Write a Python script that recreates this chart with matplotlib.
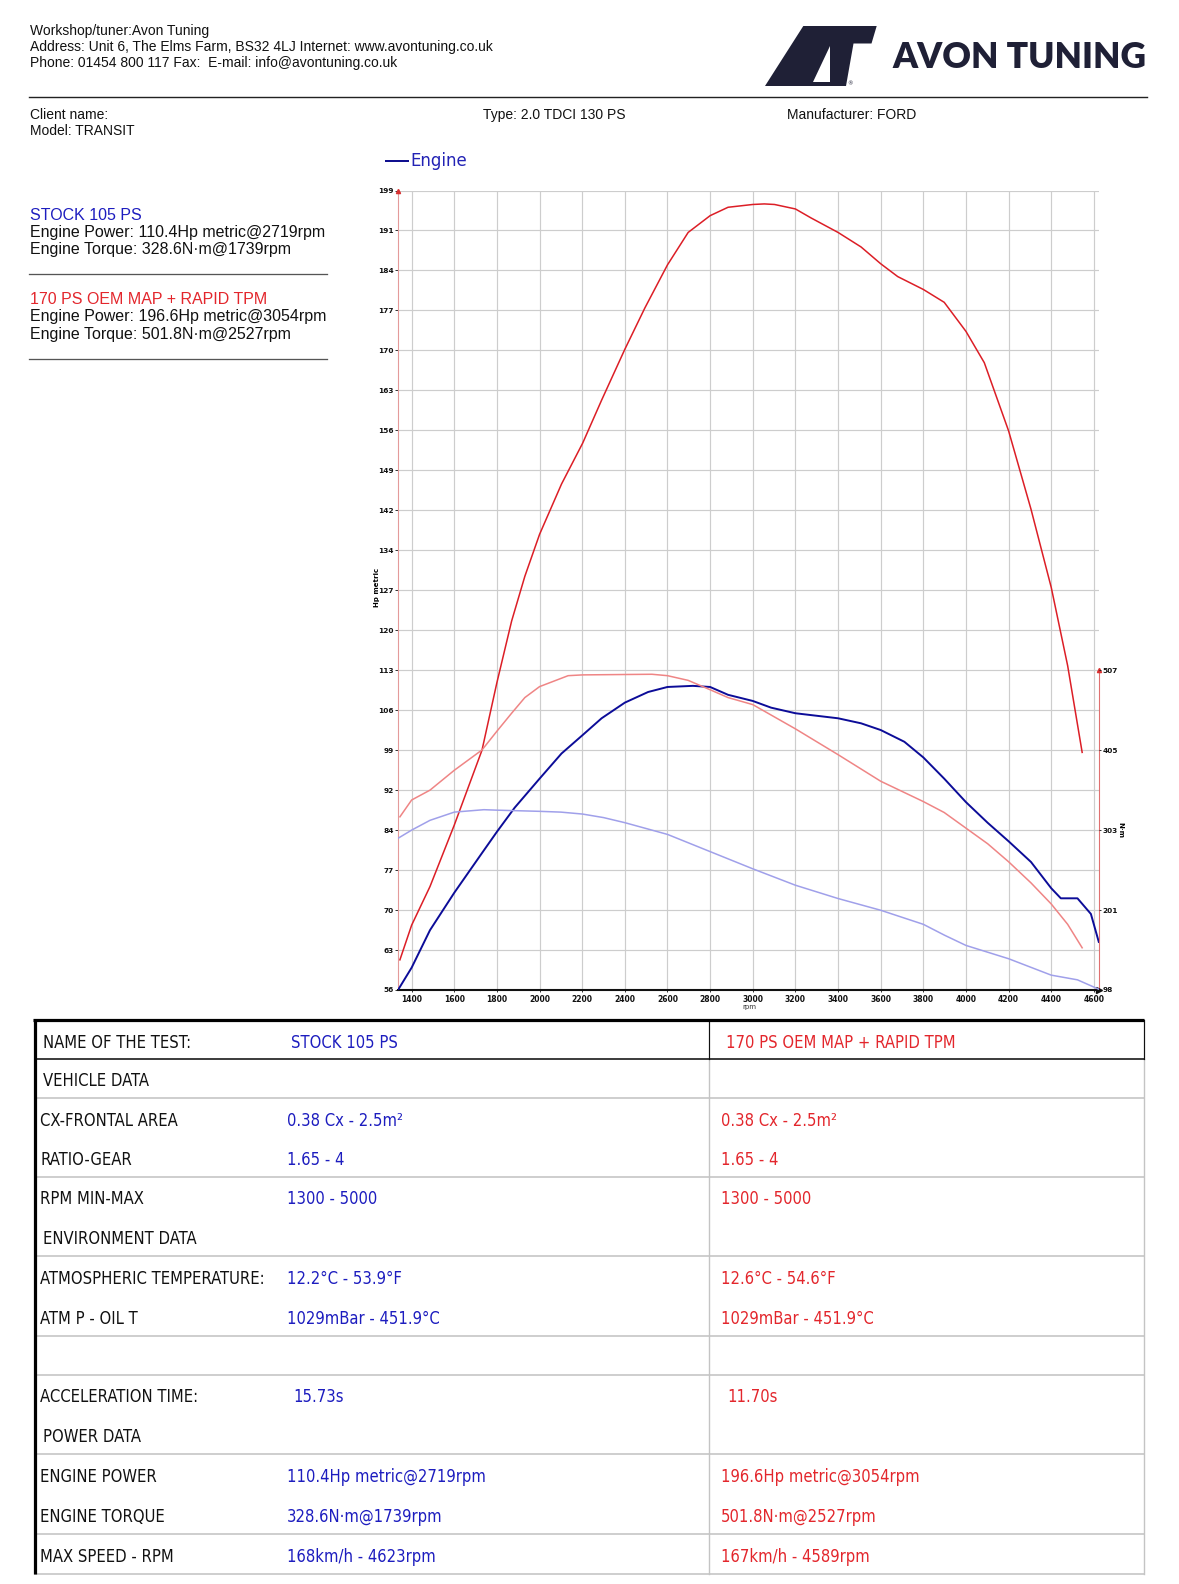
import os
import matplotlib
matplotlib.use('Agg')
import matplotlib.pyplot as plt
import numpy as np
from matplotlib import font_manager as fm
from matplotlib.patches import Polygon

# ---------------- data ----------------
rpm_tuned_hp = [1345, 1400, 1486, 1600, 1730, 1800, 1869, 1931, 2000, 2103, 2202, 2291, 2400,
                2494, 2600, 2697, 2800, 2884, 3000, 3054, 3102, 3200, 3273, 3400, 3508, 3600, 3680,
                3800, 3898, 4000, 4086, 4200, 4305, 4400, 4477, 4545]
hp_tuned = [61.4, 67.6, 74.5, 85.5, 98.9, 111.0, 122.0, 130.0, 137.5, 146.5, 153.8, 161.5, 170.6,
            178.0, 185.7, 191.5, 194.5, 196.0, 196.5, 196.6, 196.5, 195.7, 194.1, 191.5, 188.9,
            185.9, 183.6, 181.3, 179.0, 173.8, 168.2, 156.0, 142.0, 128.0, 114.0, 98.5]

rpm_stock_hp = [1336, 1400, 1486, 1600, 1730, 1800, 1883, 2000, 2103, 2202, 2291, 2400, 2509, 2600,
                2719, 2800, 2884, 3000, 3086, 3200, 3400, 3508, 3600, 3711, 3800, 3898, 4000, 4102,
                4200, 4305, 4400, 4445, 4523, 4586, 4623]
hp_stock = [56.0, 60.0, 66.7, 73.4, 80.5, 84.3, 88.6, 93.8, 98.3, 101.6, 104.6, 107.4, 109.3, 110.2,
            110.4, 110.2, 108.8, 107.7, 106.5, 105.5, 104.6, 103.7, 102.5, 100.4, 97.6, 93.8, 89.6,
            85.9, 82.6, 78.9, 74.2, 72.4, 72.4, 69.6, 64.6]

rpm_tuned_nm = [1345, 1400, 1486, 1600, 1730, 1800, 1869, 1931, 2000, 2134, 2202, 2400, 2527, 2600,
                2697, 2800, 2884, 3000, 3200, 3400, 3600, 3800, 3898, 4000, 4102, 4200, 4305, 4400,
                4477, 4545]
nm_tuned = [319.5, 341, 353.6, 379, 405, 429, 452, 472, 486, 500, 501, 501.5, 501.8, 500, 494, 482,
            472, 463, 432, 399, 365, 339, 325, 305, 285, 262, 235, 208, 182, 152]

rpm_stock_nm = [1336, 1400, 1486, 1600, 1739, 1800, 2000, 2100, 2202, 2300, 2400, 2600, 2800, 3000,
                3200, 3400, 3600, 3800, 3900, 4000, 4200, 4400, 4523, 4623]
nm_stock = [292, 302.5, 315, 325.5, 328.6, 328, 326.5, 325.5, 323, 318.5, 312, 297, 275, 253, 232,
            215, 200, 182, 168, 155, 138, 117, 111, 99]

hp_tick_labels = ['56', '63', '70', '77', '84', '92', '99', '106', '113', '120', '127', '134', '142',
                  '149', '156', '163', '170', '177', '184', '191', '199']
nm_tick_values = [98, 200.25, 302.5, 404.75, 507]
nm_tick_labels = ['98', '201', '303', '405', '507']
rpm_ticks = list(range(1400, 4601, 200))

row_labels = ['NAME OF THE TEST:', 'VEHICLE DATA', 'CX-FRONTAL AREA', 'RATIO-GEAR', 'RPM MIN-MAX',
              'ENVIRONMENT DATA', 'ATMOSPHERIC TEMPERATURE:', 'ATM P - OIL T', '',
              'ACCELERATION TIME:', 'POWER DATA', 'ENGINE POWER', 'ENGINE TORQUE', 'MAX SPEED - RPM']
stock_values = ['STOCK 105 PS', '', '0.38 Cx - 2.5m²', '1.65 - 4', '1300 - 5000', '',
                '12.2°C - 53.9°F', '1029mBar - 451.9°C', '', '15.73s', '',
                '110.4Hp metric@2719rpm', '328.6N·m@1739rpm', '168km/h - 4623rpm']
tuned_values = ['170 PS OEM MAP + RAPID TPM', '', '0.38 Cx - 2.5m²', '1.65 - 4', '1300 - 5000', '',
                '12.6°C - 54.6°F', '1029mBar - 451.9°C', '', '11.70s', '',
                '196.6Hp metric@3054rpm', '501.8N·m@2527rpm', '167km/h - 4589rpm']

# ---------------- figure ----------------
W, H = 1179, 1584
DPI = 100
fig = plt.figure(figsize=(W / DPI, H / DPI), dpi=DPI, facecolor='white')

bg = fig.add_axes([0, 0, 1, 1])
bg.set_xlim(0, W)
bg.set_ylim(H, 0)
bg.axis('off')
bg.set_facecolor('none')

PX = 72.0 / DPI  # points per pixel
SANS = ['Liberation Sans', 'DejaVu Sans']


def pick_condensed():
    prefs = ['liberationsansnarrow-regular', 'dejavusanscondensed.ttf', 'notosans-condensed.ttf',
             'notosans-condensed', 'robotocondensed-regular', 'opensans-condensed',
             'opensans_condensed-regular']
    files = [f.fname for f in fm.fontManager.ttflist]
    low = {fn: os.path.basename(fn).lower() for fn in files}
    for p in prefs:
        for fn, b in low.items():
            if b.startswith(p) or b == p:
                return fm.FontProperties(fname=fn)
    for fn, b in low.items():
        if ('condensed' in b or 'narrow' in b) and not any(k in b for k in
                ['bold', 'italic', 'oblique', 'light', 'thin', 'medium', 'black', 'semi', 'extra']):
            return fm.FontProperties(fname=fn)
    return fm.FontProperties(family='Liberation Sans')


TABLE_FP = pick_condensed()

BLUE_TXT = '#1d1dbf'
RED_TXT = '#e3262c'
NAVY = '#1f2036'

# header
hdr = ['Workshop/tuner:Avon Tuning',
       'Address: Unit 6, The Elms Farm, BS32 4LJ Internet: www.avontuning.co.uk',
       'Phone: 01454 800 117 Fax:  E-mail: info@avontuning.co.uk']
for i, s in enumerate(hdr):
    bg.text(30, 30.5 + i * 16.2, s, family=SANS, fontsize=10, va='center', ha='left', color='#111')
bg.plot([29, 1147], [97, 97], color='#222', lw=1.4 * PX)
bg.text(30, 115, 'Client name:', family=SANS, fontsize=10, va='center', color='#111')
bg.text(30, 131, 'Model: TRANSIT', family=SANS, fontsize=10, va='center', color='#111')
bg.text(483, 115, 'Type: 2.0 TDCI 130 PS', family=SANS, fontsize=10, va='center', color='#111')
bg.text(787, 115, 'Manufacturer: FORD', family=SANS, fontsize=10, va='center', color='#111')

# logo
bg.add_patch(Polygon([(765, 86), (803.3, 26), (876.7, 26), (871.5, 43.5), (853.5, 43.5), (846, 86)],
                     closed=True, facecolor=NAVY, edgecolor='none'))
bg.add_patch(Polygon([(830, 46), (830, 82), (813, 82)], closed=True, facecolor='white',
                     edgecolor='none'))
bg.text(850, 84, '®', fontsize=4, color=NAVY, ha='center', va='center')
logo_t = bg.text(892, 68.5, 'AVON TUNING', family=['Lato', 'DejaVu Sans'], fontweight='heavy',
                 fontsize=28, color=NAVY, ha='left', va='baseline')

# left summary panel
LFS = 11.5
bg.text(30, 215.5, 'STOCK 105 PS', family=SANS, fontsize=LFS, color=BLUE_TXT, va='center')
bg.text(30, 232.5, 'Engine Power: 110.4Hp metric@2719rpm', family=SANS, fontsize=LFS, color='#111',
        va='center')
bg.text(30, 249.5, 'Engine Torque: 328.6N·m@1739rpm', family=SANS, fontsize=LFS, color='#111',
        va='center')
bg.plot([29, 327], [274, 274], color='#555', lw=1.3 * PX)
bg.text(30, 300, '170 PS OEM MAP + RAPID TPM', family=SANS, fontsize=LFS, color=RED_TXT, va='center')
bg.text(30, 317, 'Engine Power: 196.6Hp metric@3054rpm', family=SANS, fontsize=LFS, color='#111',
        va='center')
bg.text(30, 334.5, 'Engine Torque: 501.8N·m@2527rpm', family=SANS, fontsize=LFS, color='#111',
        va='center')
bg.plot([29, 327], [359, 359], color='#555', lw=1.3 * PX)

# legend
bg.plot([386, 408], [161, 161], color='#10108f', lw=2 * PX)
bg.text(410, 161, 'Engine', family=['DejaVu Sans'], fontsize=12, color='#2323b5', va='center',
        ha='left')

# axis titles
bg.text(376.5, 587, 'Hp metric', rotation=90, fontsize=5, fontweight='bold', ha='center',
        va='center', family=['DejaVu Sans'])
bg.text(1120, 830, 'N·m', rotation=270, fontsize=5, fontweight='bold', ha='center', va='center',
        family=['DejaVu Sans'])
bg.text(749, 1007, 'rpm', fontsize=5, ha='center', va='center', color='#333',
        family=['DejaVu Sans'])

# ---------------- chart ----------------
x0, x1 = 398, 1099
ytop, ybot = 190.5, 990
ax = fig.add_axes([x0 / W, 1 - ybot / H, (x1 - x0) / W, (ybot - ytop) / H])
ax.set_facecolor('none')
ax.set_xlim(1336, 4624)
ax.set_ylim(56, 199)
ax.set_yticks(np.linspace(56, 199, 21))
ax.set_yticklabels(hp_tick_labels, fontsize=5.3, fontweight='bold', family=['DejaVu Sans'])
ax.set_xticks(rpm_ticks)
ax.set_xticklabels([str(v) for v in rpm_ticks], fontsize=5.5, fontweight='bold',
                   family=['DejaVu Sans'])
ax.tick_params(axis='y', length=2, width=0.6, pad=1, colors='#111')
ax.tick_params(axis='x', length=1.5, width=0.6, pad=2, colors='#111')
ax.grid(True, color='#cdcdcd', lw=0.85)
ax.set_axisbelow(True)
for s in ['top', 'right']:
    ax.spines[s].set_visible(False)
ax.spines['left'].set_color('#e49a9a')
ax.spines['left'].set_linewidth(0.8)
ax.spines['bottom'].set_color('#111')
ax.spines['bottom'].set_linewidth(1.5)

ax.plot(rpm_tuned_hp, hp_tuned, color='#dc1e26', lw=1.1, zorder=4)
ax.plot(rpm_stock_hp, hp_stock, color='#0c0c98', lw=1.4, zorder=4)

# arrows / right axis
ax.plot([1336], [199], marker='^', ms=3, color='#d83030', clip_on=False, zorder=6)
ax.plot([4624], [56], marker='>', ms=4, color='#111', clip_on=False, zorder=6)
ax.plot([4624, 4624], [56, 113.2], color='#e07070', lw=0.8, clip_on=False, zorder=5)
ax.plot([4624], [113.2], marker='^', ms=3, color='#d83030', clip_on=False, zorder=6)

ax2 = ax.twinx()
ax2.set_ylim(98, 98 + 20 * 51.125)
ax2.set_xlim(1336, 4624)
for s in ax2.spines.values():
    s.set_visible(False)
ax2.set_yticks(nm_tick_values)
ax2.set_yticklabels(nm_tick_labels, fontsize=5.3, fontweight='bold', family=['DejaVu Sans'])
ax2.tick_params(axis='y', length=1.5, width=0.6, pad=1, colors='#111')
ax2.plot(rpm_tuned_nm, nm_tuned, color='#ef8585', lw=1.1, zorder=3)
ax2.plot(rpm_stock_nm, nm_stock, color='#a0a0ea', lw=1.1, zorder=3)

# ---------------- table ----------------
row_top = [1020, 1059, 1098, 1137, 1177, 1216, 1256, 1296, 1336, 1375, 1414, 1454, 1494, 1534]
row_bot = row_top[1:] + [1574]
section_rows = {0, 1, 5, 10}
GRAY = '#c4c4c4'
for yv in [1098, 1177, 1256, 1336, 1375, 1454, 1534, 1574]:
    bg.plot([35, 1144], [yv, yv], color=GRAY, lw=1.6 * PX)
bg.plot([709, 709], [1059, 1574], color=GRAY, lw=1.4 * PX)
bg.plot([1144, 1144], [1059, 1574], color=GRAY, lw=1.4 * PX)
bg.plot([709, 709], [1020, 1059], color='#111', lw=1.2 * PX)
bg.plot([1144, 1144], [1020, 1059], color='#111', lw=1.2 * PX)
bg.plot([35, 1144], [1059, 1059], color='#111', lw=1.6 * PX)
bg.plot([33, 1144], [1020, 1020], color='#000', lw=3.2 * PX, solid_capstyle='butt')
bg.plot([35, 35], [1019, 1574], color='#000', lw=3.2 * PX, solid_capstyle='butt')

# size the table font so that the widest label matches the reference width
probe = bg.text(0, -100, 'ATMOSPHERIC TEMPERATURE:', fontproperties=TABLE_FP, fontsize=12)
fig.canvas.draw()
r = fig.canvas.get_renderer()
TFS = min(13.5, 12 * 224.0 / probe.get_window_extent(r).width)
probe.remove()

for i, lab in enumerate(row_labels):
    yc = (row_top[i] + row_bot[i]) / 2.0 + 3
    lx = 43 if i in section_rows else 40
    if lab:
        bg.text(lx, yc, lab, fontproperties=TABLE_FP, fontsize=TFS, color='#111', va='center',
                ha='left')
    sx, tx = (291, 726) if i == 0 else ((293, 727) if lab.startswith('ACCEL') else (287, 721))
    if stock_values[i]:
        bg.text(sx, yc, stock_values[i], fontproperties=TABLE_FP, fontsize=TFS, color=BLUE_TXT,
                va='center', ha='left')
    if tuned_values[i]:
        bg.text(tx, yc, tuned_values[i], fontproperties=TABLE_FP, fontsize=TFS, color=RED_TXT,
                va='center', ha='left')

# fit logo text width
bb = logo_t.get_window_extent(r)
logo_t.set_fontsize(logo_t.get_fontsize() * 255.0 / bb.width)

fig.savefig('out.png', dpi=DPI, facecolor='white')
